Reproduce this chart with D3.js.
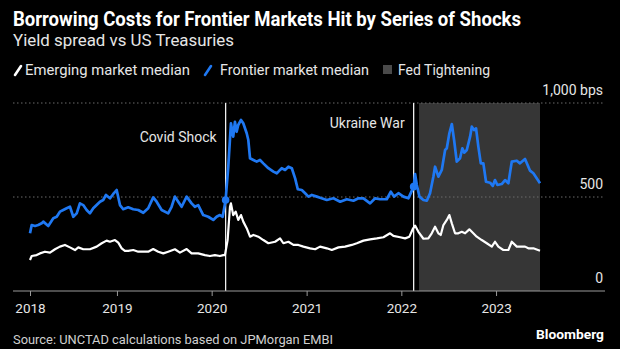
<!DOCTYPE html>
<html><head><meta charset="utf-8">
<script src="https://cdn.jsdelivr.net/npm/d3@7"></script>
<style>
html,body{margin:0;padding:0;background:#000;}
svg{display:block;font-family:Roboto,"Noto Sans",sans-serif;}
</style></head>
<body>
<svg id="chart" width="620" height="349"></svg>
<script>
// ---- data (decimal years, spread in bps) ----
const fmDates = [2018.082,2018.100,2018.135,2018.169,2018.205,2018.222,2018.275,2018.328,2018.364,2018.398,2018.433,2018.469,2018.504,2018.539,2018.575,2018.609,2018.644,2018.680,2018.715,2018.750,2018.821,2018.855,2018.884,2018.926,2018.961,2018.997,2019.032,2019.066,2019.119,2019.172,2019.225,2019.278,2019.330,2019.383,2019.419,2019.472,2019.541,2019.577,2019.612,2019.647,2019.683,2019.736,2019.788,2019.823,2019.858,2019.911,2019.964,2020.017,2020.052,2020.087,2020.116,2020.147,2020.175,2020.203,2020.227,2020.245,2020.263,2020.280,2020.309,2020.333,2020.369,2020.386,2020.404,2020.439,2020.474,2020.509,2020.544,2020.597,2020.650,2020.686,2020.720,2020.738,2020.773,2020.808,2020.844,2020.879,2020.907,2020.949,2020.984,2021.019,2021.055,2021.108,2021.142,2021.213,2021.283,2021.354,2021.424,2021.494,2021.547,2021.600,2021.670,2021.723,2021.776,2021.846,2021.889,2021.923,2021.969,2022.022,2022.074,2022.130,2022.145,2022.163,2022.191,2022.233,2022.269,2022.303,2022.338,2022.356,2022.391,2022.427,2022.462,2022.480,2022.507,2022.533,2022.557,2022.585,2022.620,2022.644,2022.665,2022.691,2022.726,2022.744,2022.768,2022.789,2022.813,2022.839,2022.866,2022.894,2022.937,2022.965,2022.989,2023.014,2023.060,2023.095,2023.130,2023.166,2023.219,2023.253,2023.306,2023.359,2023.394,2023.464];
const fmValues = [307,351,346,351,360,369,346,387,395,422,431,440,448,395,413,466,457,431,413,440,475,484,511,493,516,537,457,435,445,435,431,416,440,498,475,431,413,448,502,475,448,502,466,448,457,404,395,378,395,404,395,484,661,892,821,900,847,883,910,892,839,803,706,697,688,697,679,653,635,626,644,653,644,661,653,599,541,537,520,502,511,502,496,484,493,475,488,480,493,493,466,493,488,488,528,502,520,502,493,555,622,565,502,484,480,520,608,661,608,644,750,759,839,888,803,688,706,759,736,750,821,874,856,865,768,679,679,581,576,559,590,564,569,590,573,688,693,679,702,640,626,573];
const emDates = [2018.082,2018.100,2018.152,2018.187,2018.240,2018.293,2018.346,2018.398,2018.451,2018.504,2018.557,2018.592,2018.644,2018.715,2018.786,2018.839,2018.891,2018.926,2018.979,2019.014,2019.050,2019.084,2019.119,2019.172,2019.225,2019.278,2019.330,2019.383,2019.436,2019.489,2019.541,2019.612,2019.665,2019.736,2019.788,2019.858,2019.929,2019.982,2020.034,2020.087,2020.122,2020.140,2020.168,2020.193,2020.203,2020.227,2020.253,2020.280,2020.309,2020.333,2020.369,2020.404,2020.439,2020.491,2020.544,2020.597,2020.668,2020.720,2020.755,2020.808,2020.861,2020.913,2020.966,2021.037,2021.090,2021.142,2021.213,2021.266,2021.336,2021.406,2021.477,2021.530,2021.600,2021.670,2021.741,2021.811,2021.881,2021.916,2021.987,2022.040,2022.085,2022.121,2022.145,2022.180,2022.233,2022.285,2022.321,2022.356,2022.391,2022.416,2022.444,2022.480,2022.507,2022.533,2022.567,2022.602,2022.638,2022.673,2022.718,2022.760,2022.796,2022.849,2022.902,2022.955,2022.989,2023.024,2023.077,2023.130,2023.166,2023.219,2023.271,2023.306,2023.341,2023.394,2023.464];
const emValues = [165,186,191,200,209,204,222,236,245,232,218,232,222,222,236,254,268,262,271,257,227,213,213,218,209,209,209,223,209,200,209,222,204,223,200,200,191,186,191,186,191,191,271,448,466,404,422,378,404,369,334,289,298,289,271,254,262,280,254,262,245,245,236,227,222,236,227,218,232,236,245,254,268,275,280,286,307,293,286,280,289,330,348,315,278,280,307,342,307,298,351,378,404,360,307,307,315,307,328,307,289,271,254,236,262,236,218,218,262,236,236,236,227,227,214];
const yearTicks = [2018,2019,2020,2021,2022,2023];
const yTicks = [0,500,1000];
const yTickLabels = ["0","500","1,000 bps"];
const events = [{name:"Covid Shock", date:2020.147}, {name:"Ukraine War", date:2022.130}];
const fedTightening = [2022.187, 2023.464];
const legendItems = ["Emerging market median","Frontier market median","Fed Tightening"];

// ---- helpers ----
function dec(y){const yr=Math.floor(y);const s=Date.UTC(yr,0,1),e=Date.UTC(yr+1,0,1);return new Date(s+(y-yr)*(e-s));}
const BLUE="#1f78f2", WHITE="#ffffff", SHADE="#363636", GRID="#6b6b6b", TXT="#e6e6e6";

const svg=d3.select("#chart");
svg.append("rect").attr("width",620).attr("height",349).attr("fill","#000");

const x=d3.scaleTime().domain([dec(fmDates[0]),dec(fmDates[fmDates.length-1])]).range([30,540]);
const y=d3.scaleLinear().domain([0,1000]).range([291,103]);

function fitText(sel,w){sel.attr("textLength",w).attr("lengthAdjust","spacingAndGlyphs");return sel;}

// title
fitText(svg.append("text").attr("x",13).attr("y",26).attr("fill","#fff").attr("font-size",19.5).attr("font-weight",700)
  .text("Borrowing Costs for Frontier Markets Hit by Series of Shocks"),508);
fitText(svg.append("text").attr("x",13).attr("y",46).attr("fill",TXT).attr("font-size",17)
  .text("Yield spread vs US Treasuries"),221);

// legend
const lg=svg.append("g");
lg.append("line").attr("x1",15).attr("y1",75).attr("x2",21).attr("y2",66).attr("stroke",WHITE).attr("stroke-width",2.6).attr("stroke-linecap","round");
fitText(lg.append("text").attr("x",25).attr("y",75).attr("fill",TXT).attr("font-size",14.5).text(legendItems[0]),165);
lg.append("line").attr("x1",205).attr("y1",75).attr("x2",211).attr("y2",66).attr("stroke",BLUE).attr("stroke-width",2.6).attr("stroke-linecap","round");
fitText(lg.append("text").attr("x",220).attr("y",75).attr("fill",TXT).attr("font-size",14.5).text(legendItems[1]),149);
lg.append("rect").attr("x",383).attr("y",65).attr("width",9).attr("height",9).attr("fill","#4a4a4a");
fitText(lg.append("text").attr("x",398).attr("y",75).attr("fill",TXT).attr("font-size",14.5).text(legendItems[2]),92);

// shade
svg.append("rect").attr("x",x(dec(fedTightening[0]))).attr("y",y(1000))
  .attr("width",x(dec(fedTightening[1]))-x(dec(fedTightening[0]))).attr("height",y(0)-y(1000)).attr("fill",SHADE);

// gridlines
yTicks.forEach((t,i)=>{
  if(t>0){
    svg.append("line").attr("x1",13).attr("x2",603).attr("y1",y(t)).attr("y2",y(t))
      .attr("stroke",GRID).attr("stroke-width",1).attr("stroke-dasharray","1.5,2.5");
  }
  svg.append("text").attr("x",603).attr("y",y(t)-8).attr("text-anchor","end").attr("fill",TXT).attr("font-size",14).text(yTickLabels[i]);
});

// event lines
events.forEach(ev=>{
  const ex=x(dec(ev.date));
  svg.append("line").attr("x1",ex).attr("x2",ex).attr("y1",y(1000)).attr("y2",y(0)).attr("stroke","#f0f0f0").attr("stroke-width",1.3);
});
svg.append("text").attr("x",x(dec(events[0].date))-9).attr("y",142).attr("text-anchor","end").attr("fill",TXT).attr("font-size",14).text(events[0].name);
svg.append("text").attr("x",x(dec(events[1].date))-9).attr("y",128).attr("text-anchor","end").attr("fill",TXT).attr("font-size",14).text(events[1].name);

// axis
svg.append("line").attr("x1",13).attr("x2",605).attr("y1",y(0)).attr("y2",y(0)).attr("stroke","#9a9a9a").attr("stroke-width",1.2);
const tickDates=yearTicks.map((yr,i)=> i===0? dec(fmDates[0]) : dec(yr));
const ax=d3.axisBottom(x).tickValues(tickDates).tickSize(5).tickPadding(7).tickFormat((d,i)=>String(yearTicks[i]));
const axg=svg.append("g").attr("transform",`translate(0,${y(0)})`).call(ax);
axg.select(".domain").remove();
axg.selectAll(".tick line").attr("stroke","#9a9a9a");
axg.selectAll(".tick text").attr("fill",TXT).attr("font-size",13.5).attr("font-family","Roboto,sans-serif");

// lines
const line=d3.line().x(d=>x(dec(d[0]))).y(d=>y(d[1]));
svg.append("path").datum(emDates.map((d,i)=>[d,emValues[i]])).attr("d",line).attr("fill","none")
  .attr("stroke",WHITE).attr("stroke-width",2.2).attr("stroke-linejoin","round");
svg.append("path").datum(fmDates.map((d,i)=>[d,fmValues[i]])).attr("d",line).attr("fill","none")
  .attr("stroke",BLUE).attr("stroke-width",2.7).attr("stroke-linejoin","round");

// event dots on frontier series
const fmInterp=d=>{const i=d3.bisectLeft(fmDates,d);const a=Math.max(0,i-1),b=Math.min(fmDates.length-1,i);
  if(fmDates[b]===d)return fmValues[b];
  if(a===b)return fmValues[a];const t=(d-fmDates[a])/(fmDates[b]-fmDates[a]);return fmValues[a]+t*(fmValues[b]-fmValues[a]);};
events.forEach(ev=>{
  svg.append("circle").attr("cx",x(dec(ev.date))).attr("cy",y(fmInterp(ev.date))).attr("r",3.8).attr("fill",BLUE);
});

// footer
fitText(svg.append("text").attr("x",13).attr("y",344).attr("fill","#cfcfcf").attr("font-size",13.5)
  .text("Source: UNCTAD calculations based on JPMorgan EMBI"),320);
fitText(svg.append("text").attr("x",536).attr("y",339).attr("fill","#fff").attr("font-size",13.5).attr("font-weight",700)
  .text("Bloomberg"),68);
</script>
</body></html>
